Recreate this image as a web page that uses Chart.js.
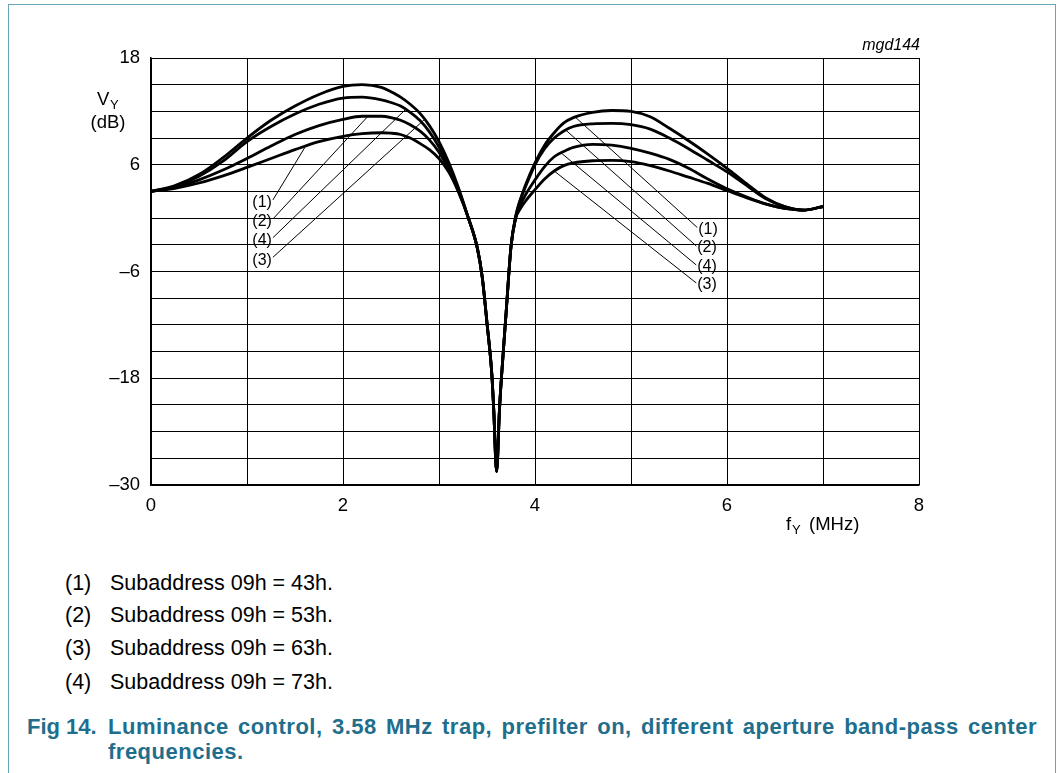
<!DOCTYPE html>
<html><head><meta charset="utf-8">
<script src="https://cdn.jsdelivr.net/npm/chart.js@4.4.1/dist/chart.umd.min.js"></script>
<style>
html,body{margin:0;padding:0;background:#fff;width:1063px;height:773px;overflow:hidden;font-family:"Liberation Sans",Arial,sans-serif;}
#frame{position:absolute;left:8px;top:4px;width:1046px;height:820px;border:1.5px solid #66a6ba;border-bottom:none;}
#wrap{position:absolute;left:0;top:0;width:1063px;height:560px;}
.n{position:absolute;font-size:21.5px;line-height:24px;color:#000;white-space:nowrap;}
.c{position:absolute;font-size:22px;line-height:25px;font-weight:bold;color:#1f6e8c;white-space:nowrap;}
.j{text-align:justify;text-align-last:justify;white-space:normal;letter-spacing:0.5px;}
</style></head>
<body>
<div id="frame"></div>
<div id="wrap"><canvas id="chart" width="1063" height="560"></canvas></div>
<div class="n" style="left:65px;top:571px">(1)</div><div class="n" style="left:110px;top:571px">Subaddress 09h = 43h.</div>
<div class="n" style="left:65px;top:603px">(2)</div><div class="n" style="left:110px;top:603px">Subaddress 09h = 53h.</div>
<div class="n" style="left:65px;top:636px">(3)</div><div class="n" style="left:110px;top:636px">Subaddress 09h = 63h.</div>
<div class="n" style="left:65px;top:670px">(4)</div><div class="n" style="left:110px;top:670px">Subaddress 09h = 73h.</div>
<div class="c" style="left:27px;top:714px">Fig 14.</div>
<div class="c j" style="left:108px;top:714px;width:929px">Luminance control, 3.58 MHz trap, prefilter on, different aperture band-pass center</div>
<div class="c" style="left:108px;top:739px;letter-spacing:0.5px">frequencies.</div>
<script>
// frequency axis (MHz)
const freq = [0,0.25,0.5,0.75,1.0,1.25,1.5,1.75,2.0,2.2,2.4,2.5,2.6,2.7,2.8,2.9,3.0,3.1,3.2,3.3,3.4,3.45,3.5,3.55,3.57,3.6,3.63,3.65,3.7,3.75,3.8,3.85,3.9,4.0,4.1,4.2,4.3,4.4,4.6,4.8,5.0,5.2,5.4,5.6,5.8,6.0,6.2,6.4,6.6,6.8,7.0];
// V_Y (dB) for each curve
const curve1 = [3.0,3.35,3.95,4.75,5.7,6.7,7.7,8.6,9.2,9.5,9.6,9.55,9.4,9.0,8.4,7.7,6.7,5.2,3.0,0.2,-3.4,-6.6,-11.8,-17.5,-21.5,-28.5,-21.5,-18,-10.5,-3.2,0.3,2.2,3.7,6.2,8.2,9.6,10.7,11.3,11.9,12.1,12.0,11.4,10.1,8.7,7.2,5.6,3.9,2.3,1.3,0.9,1.3];
const curve2 = [3.0,3.45,4.3,5.4,6.7,8.1,9.4,10.4,11.1,11.45,11.45,11.3,11.0,10.5,9.8,8.8,7.4,5.5,3.1,0.2,-3.4,-6.6,-11.8,-17.5,-21.5,-28.5,-21.5,-18,-10.5,-3.2,0.2,2.1,3.5,6.0,7.8,9.0,9.8,10.3,10.6,10.65,10.5,10.0,9.0,7.8,6.5,5.2,3.7,2.2,1.3,0.9,1.3];
const curve3 = [3.0,3.65,4.9,6.8,9.0,11.0,12.6,13.9,14.8,15.0,14.7,14.2,13.6,12.8,11.8,10.4,8.6,6.3,3.5,0.2,-3.4,-6.6,-11.8,-17.5,-21.5,-28.5,-21.5,-18,-10.5,-3.2,0.0,1.1,1.9,3.2,4.4,5.3,5.9,6.2,6.45,6.5,6.35,5.9,5.3,4.6,3.9,3.1,2.3,1.6,1.1,0.9,1.3];
const curve4 = [3.0,3.55,4.7,6.4,8.6,10.3,11.7,12.8,13.5,13.6,13.3,13.0,12.6,11.9,11.0,9.7,8.0,5.9,3.3,0.2,-3.4,-6.6,-11.8,-17.5,-21.5,-28.5,-21.5,-18,-10.5,-3.2,0.1,1.5,2.6,4.3,5.8,6.9,7.5,7.95,8.3,8.2,7.85,7.3,6.6,5.6,4.4,3.3,2.4,1.6,1.1,0.9,1.3];
// tick labels
const xTickLabels = [0,2,4,6,8];
const yTickLabels = [18,6,-6,-18,-30];
// leader-line annotations (data coordinates: [MHz, dB])
const leaderLabels = ['(1)','(2)','(4)','(3)'];
const leftLeaderFrom = [[1.27,2.05],[1.27,-0.1],[1.27,-2.2],[1.27,-4.4]];
const leftLeaderTo   = [[1.60,7.9],[2.26,11.45],[2.66,12.3],[2.85,11.1]];
const rightLeaderFrom = [[4.42,11.35],[4.32,9.9],[4.27,7.35],[4.20,5.3]];
const rightLeaderTo   = [[5.69,-1.05],[5.68,-3.13],[5.68,-5.27],[5.68,-7.29]];

const FONT = '"Liberation Sans", Arial, sans-serif';
function pts(arr){ return freq.map((f,i)=>({x:f,y:arr[i]})); }
function fmt(v){ return v<0 ? '\u2013'+Math.abs(v) : String(v); }

const ds = (label, arr) => ({label, data: pts(arr), borderColor:'#000', borderWidth:2.8, pointRadius:0, fill:false, cubicInterpolationMode:'monotone'});

const annot = {
  id:'annot',
  afterDatasetsDraw(chart){
    const ctx = chart.ctx, xs = chart.scales.x, ys = chart.scales.y, ca = chart.chartArea;
    const P = (p)=>[xs.getPixelForValue(p[0]), ys.getPixelForValue(p[1])];
    ctx.save();
    ctx.strokeStyle = '#000'; ctx.lineWidth = 1;
    ctx.fillStyle = '#000';
    ctx.font = '16px ' + FONT;
    for (let i=0;i<leaderLabels.length;i++){
      let a = P(leftLeaderFrom[i]), b = P(leftLeaderTo[i]);
      ctx.beginPath(); ctx.moveTo(a[0],a[1]); ctx.lineTo(b[0],b[1]); ctx.stroke();
      ctx.textAlign='right'; ctx.textBaseline='middle';
      ctx.fillText(leaderLabels[i], a[0]-1, a[1]+3);
      a = P(rightLeaderFrom[i]); b = P(rightLeaderTo[i]);
      ctx.beginPath(); ctx.moveTo(a[0],a[1]); ctx.lineTo(b[0],b[1]); ctx.stroke();
      ctx.textAlign='left';
      ctx.fillText(leaderLabels[i], b[0]+1, b[1]+2);
    }
    // axis titles
    ctx.textBaseline='middle';
    ctx.font = '18.5px ' + FONT;
    ctx.textAlign='left';
    ctx.fillText('V', ca.left-54, ca.top+42);
    ctx.font = '13px ' + FONT;
    ctx.fillText('Y', ca.left-41, ca.top+47);
    ctx.font = '18.5px ' + FONT;
    ctx.textAlign='center';
    ctx.fillText('(dB)', ca.left-43, ca.top+65);
    ctx.textAlign='left';
    ctx.fillText('f', ca.left+635, ca.bottom+40);
    ctx.font = '13px ' + FONT;
    ctx.fillText('Y', ca.left+641, ca.bottom+45);
    ctx.font = '18.5px ' + FONT;
    ctx.fillText('(MHz)', ca.left+658, ca.bottom+40);
    ctx.font = 'italic 16px ' + FONT;
    ctx.textAlign='right'; ctx.textBaseline='alphabetic';
    ctx.fillText('mgd144', ca.right+1, ca.top-8);
    ctx.restore();
  }
};

new Chart(document.getElementById('chart'), {
  type:'line',
  data:{ datasets:[ ds('(1)',curve1), ds('(2)',curve2), ds('(3)',curve3), ds('(4)',curve4) ] },
  options:{
    responsive:false, animation:false, devicePixelRatio:1,
    layout:{ padding:{ left:0, top:58, right:144, bottom:0 } },
    plugins:{ legend:{display:false}, tooltip:{enabled:false} },
    scales:{
      x:{ type:'linear', min:0, max:8,
          afterFit(s){ s.height = 75; },
          grid:{ color:'#000', lineWidth:1, drawTicks:false },
          border:{ color:'#000', width:1.5 },
          ticks:{ stepSize:1, padding:10, color:'#000', font:{family:FONT, size:18.5}, maxRotation:0,
                  callback:(v)=> xTickLabels.includes(Math.round(v*100)/100) ? String(v) : '' } },
      y:{ type:'linear', min:-30, max:18,
          afterFit(s){ s.width = 151; },
          grid:{ color:'#000', lineWidth:1, drawTicks:false },
          border:{ color:'#000', width:1.5 },
          ticks:{ stepSize:3, padding:11, color:'#000', font:{family:FONT, size:18.5},
                  callback:(v)=> yTickLabels.includes(Math.round(v)) ? fmt(Math.round(v)) : '' } }
    }
  },
  plugins:[annot]
});
</script>
</body></html>
